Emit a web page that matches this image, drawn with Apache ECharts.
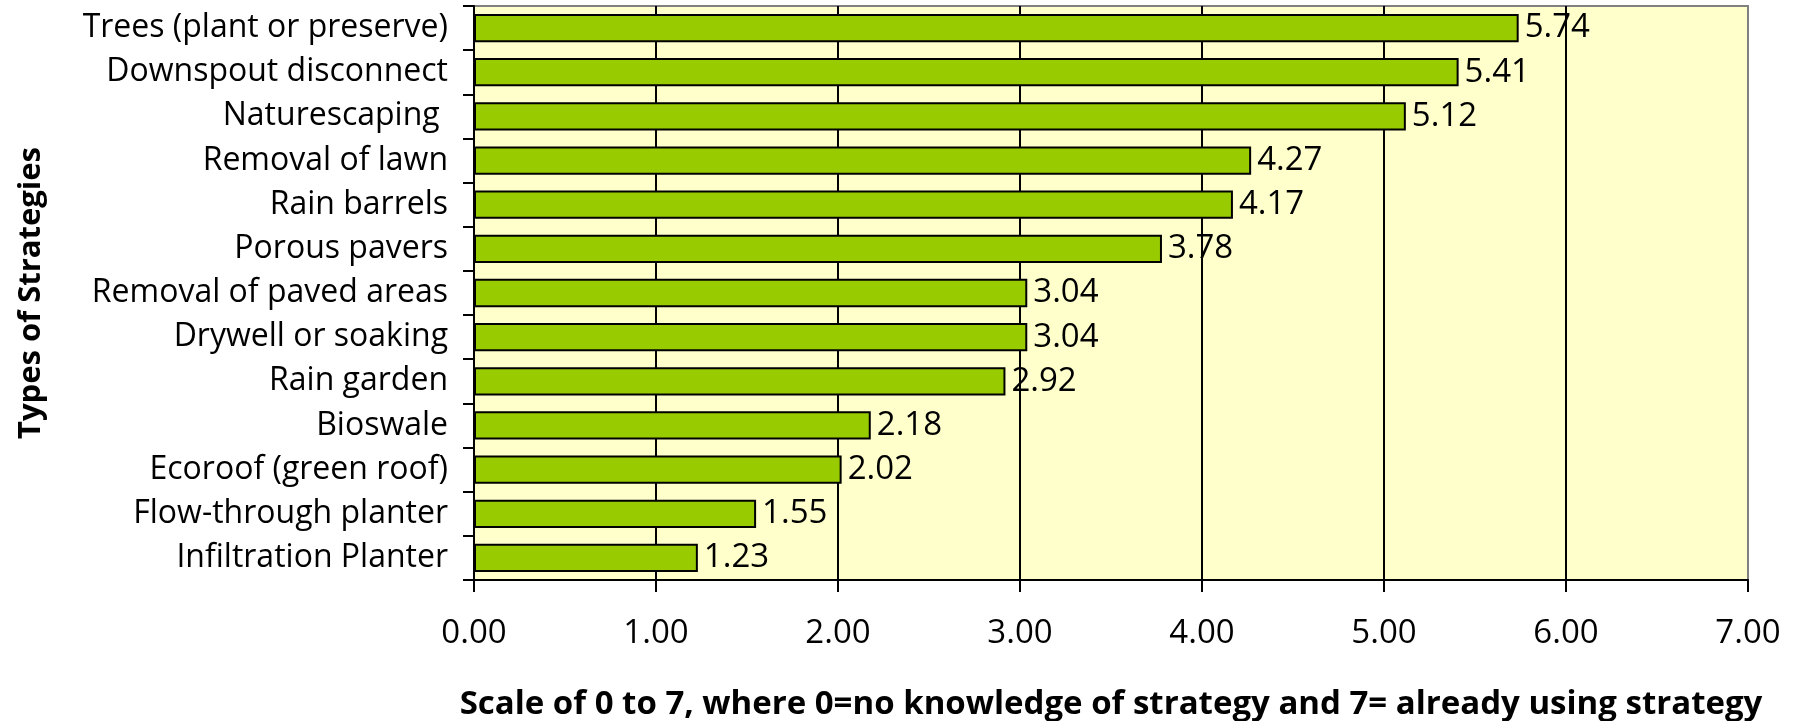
<!DOCTYPE html>
<html>
<head>
<meta charset="utf-8">
<title>Types of Strategies</title>
<script src="https://cdn.jsdelivr.net/npm/echarts@6/dist/echarts.min.js"></script>
<style>
  html, body { margin: 0; padding: 0; background: #ffffff; }
  #chart { width: 1801px; height: 721px; }
</style>
</head>
<body>
<div id="chart"></div>
<script>
// Strategies, listed top to bottom
const strategies = [
  'Trees (plant or preserve)',
  'Downspout disconnect',
  'Naturescaping ',
  'Removal of lawn',
  'Rain barrels',
  'Porous pavers',
  'Removal of paved areas',
  'Drywell or soaking',
  'Rain garden',
  'Bioswale',
  'Ecoroof (green roof)',
  'Flow-through planter',
  'Infiltration Planter'
];

// Mean score per strategy (0 to 7)
const scores = [5.74, 5.41, 5.12, 4.27, 4.17, 3.78, 3.04, 3.04, 2.92, 2.18, 2.02, 1.55, 1.23];

// Scale ticks
const scaleMin = 0;
const scaleMax = 7;
const scaleStep = 1;

const yTitle = 'Types of Strategies';
const xTitle = 'Scale of 0 to 7, where 0=no knowledge of strategy and 7= already using strategy';

const FONT = '"Open Sans", Lato, sans-serif';

const chart = echarts.init(document.getElementById('chart'), null, { renderer: 'canvas' });

// vertical grid lines: black inside, grey at the right edge
const gridColors = [];
for (let v = scaleMin; v <= scaleMax; v += scaleStep) {
  gridColors.push(v === scaleMax ? '#808080' : '#000000');
}

chart.setOption({
  animation: false,
  backgroundColor: '#ffffff',
  grid: {
    left: 474,
    top: 6,
    right: 53,
    bottom: 141,
    outerBoundsMode: 'none',
    show: true,
    backgroundColor: '#FFFFCC',
    borderColor: '#808080',
    borderWidth: 2
  },
  xAxis: {
    type: 'value',
    min: scaleMin,
    max: scaleMax,
    interval: scaleStep,
    name: xTitle,
    nameLocation: 'middle',
    nameGap: 108,
    nameTextStyle: {
      fontFamily: FONT,
      fontWeight: 'bold',
      fontSize: 33,
      color: '#000000'
    },
    axisLine: { show: true, lineStyle: { color: '#000000', width: 2 } },
    axisTick: { show: true, length: 12, lineStyle: { color: '#000000', width: 2 } },
    axisLabel: {
      margin: 37,
      fontFamily: FONT,
      fontSize: 33,
      color: '#000000',
      formatter: v => v.toFixed(2)
    },
    splitLine: { show: true, lineStyle: { color: gridColors, width: 2 } }
  },
  yAxis: {
    type: 'category',
    data: strategies,
    inverse: true,
    name: yTitle,
    nameLocation: 'middle',
    nameGap: 443,
    nameRotate: 90,
    nameTextStyle: {
      fontFamily: FONT,
      fontWeight: 'bold',
      fontSize: 31,
      color: '#000000',
      verticalAlign: 'middle'
    },
    axisLine: { show: true, lineStyle: { color: '#000000', width: 2 } },
    axisTick: { show: true, length: 11, alignWithLabel: false, lineStyle: { color: '#000000', width: 2 } },
    axisLabel: {
      margin: 26,
      padding: [15, 0, 0, 0],
      fontFamily: FONT,
      fontSize: 32,
      color: '#000000'
    },
    splitLine: { show: false }
  },
  series: [{
    type: 'bar',
    data: scores,
    barCategoryGap: '36%',
    itemStyle: {
      color: '#99CC00',
      borderColor: '#000000',
      borderWidth: 2
    },
    label: {
      show: true,
      position: 'right',
      distance: 6,
      padding: [15, 0, 0, 0],
      fontFamily: FONT,
      fontSize: 33,
      color: '#000000',
      formatter: p => p.value.toFixed(2)
    }
  }]
});
</script>
</body>
</html>
